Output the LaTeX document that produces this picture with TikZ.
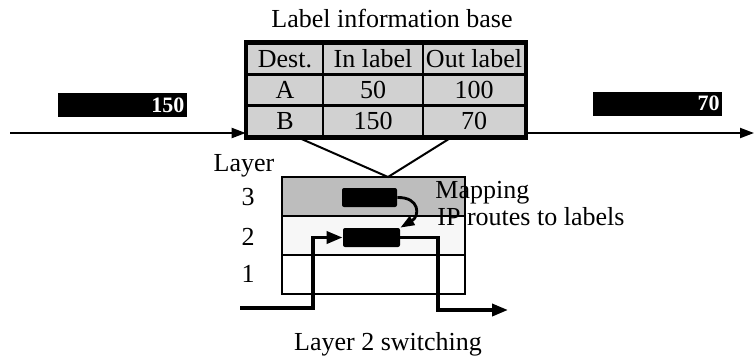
\documentclass[tikz,border=0pt]{standalone}
\usepackage{fontspec}
\setmainfont{Liberation Serif}
\usepackage{xcolor}
\usepackage{tikz}
\usetikzlibrary{arrows.meta, positioning}
\definecolor{cellgray}{gray}{0.82}
\definecolor{rowgray}{gray}{0.74}
\definecolor{rowlight}{gray}{0.97}
\tikzset{
  txt/.style={font=\fontsize{13}{15}\selectfont, inner sep=0pt},
  cell/.style={rectangle, draw=black, line width=1.3pt, fill=cellgray,
    minimum height=15.5pt, inner sep=0pt, font=\fontsize{13}{15}\selectfont},
  layerrow/.style={rectangle, draw=black, line width=1pt,
    minimum width=91.5pt, minimum height=19.5pt, inner sep=0pt},
  pkt/.style={rectangle, fill=black, minimum width=64.5pt, minimum height=12pt,
    inner sep=0pt, text width=62pt, align=right, text=white,
    font=\fontsize{11}{11}\selectfont\bfseries},
  chip/.style={rectangle, rounded corners=1pt, fill=black,
    minimum height=9.5pt, inner sep=0pt},
  flow/.style={-{Triangle[length=7pt, width=5pt]}, line width=1pt},
  route/.style={-{Triangle[length=8pt, width=6pt]}, line width=1.8pt},
}
\begin{document}
\begin{tikzpicture}[x=0.5pt, y=-0.5pt]
  \useasboundingbox (0,0) rectangle (755,361);
  % label information base
  \node[txt, anchor=base] (title) at (392,27) {Label information base};
  \node[cell, minimum width=38pt] (hd) at (285,59) {Dest.};
  \node[cell, minimum width=50pt] (hin) at (373,59) {In label};
  \node[cell, minimum width=51pt] (hout) at (474,59) {Out label};
  \node[cell, minimum width=38pt] (ad) at (285,90) {A};
  \node[cell, minimum width=50pt] (ain) at (373,90) {50};
  \node[cell, minimum width=51pt] (aout) at (474,90) {100};
  \node[cell, minimum width=38pt] (bd) at (285,121) {B};
  \node[cell, minimum width=50pt] (bin) at (373,121) {150};
  \node[cell, minimum width=51pt] (bout) at (474,121) {70};
  \draw[line width=1.8pt] (hd.north west) rectangle (bout.south east);

  % packets on the wire
  \node[pkt] (pin) at (122.5,105) {150};
  \node[pkt] (pout) at (657.5,103.5) {70};
  \coordinate (src) at (10,133);
  \coordinate (dst) at (754,133);
  \draw[flow] (src) -- (src -| bd.west);
  \draw[flow] (dst -| bout.east) -- (dst);

  % layers
  \node[layerrow, fill=rowgray] (l3) at (373.5,196.5) {};
  \node[layerrow, fill=rowlight] (l2) at (373.5,235.5) {};
  \node[layerrow, fill=white] (l1) at (373.5,274.5) {};
  \node[txt, anchor=base] (layer) at (244,171) {Layer};
  \node[txt, anchor=base] (n3) at (248,205) {3};
  \node[txt, anchor=base] (n2) at (248,245) {2};
  \node[txt, anchor=base] (n1) at (248,282) {1};

  \coordinate (vl) at (297,137);
  \coordinate (apex) at (388,177);
  \coordinate (vr) at (452,137);
  \draw[line width=1pt] (vl) -- (apex) -- (vr);

  \node[chip, minimum width=27.5pt] (chip3) at (369.5,197.5) {};
  \node[chip, minimum width=28.5pt] (chip2) at (371.5,237.5) {};
  \draw[flow, line width=1.4pt] (chip3.east) .. controls (420,197) and (420,216) .. (chip2.north east);

  \node[txt, anchor=base west] (map) at (435,198) {Mapping};
  \node[txt, anchor=base west] (iproutes) at (437,225) {IP routes to labels};

  % layer 2 switching
  \coordinate (swin) at (240,308);
  \coordinate (kin) at (313,237.5);
  \coordinate (kout) at (438,310);
  \coordinate (swout) at (508,310);
  \draw[route] (swin) -| (kin) -- (chip2.west);
  \draw[route] (chip2.east) -| (kout) -- (swout);
  \node[txt, anchor=base] (switching) at (388,350) {Layer 2 switching};
\end{tikzpicture}
\end{document}
